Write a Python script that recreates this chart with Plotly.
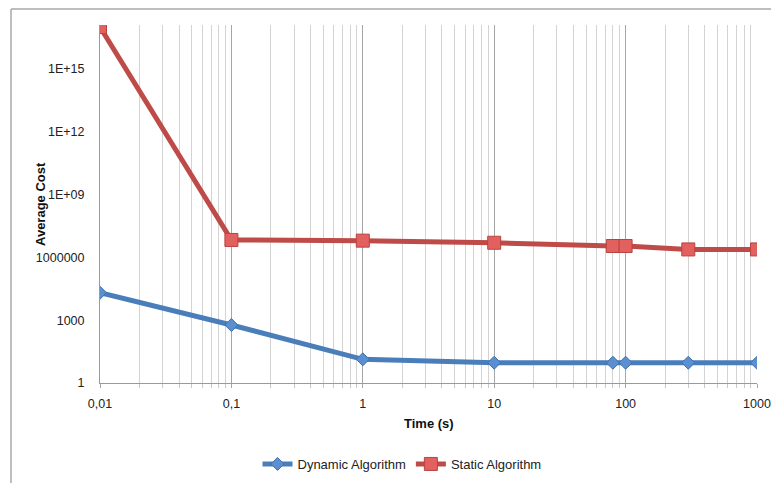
import plotly.graph_objects as go

time_s = [0.01, 0.1, 1, 10, 80, 100, 300, 1000]
dynamic_cost = [2.05e4, 590, 13.5, 9.3, 9.3, 9.3, 9.3, 9.3]
static_cost = [1.0e17, 6.8e6, 6.3e6, 5.0e6, 3.5e6, 3.5e6, 2.4e6, 2.4e6]

x_major_vals = [0.01, 0.1, 1, 10, 100, 1000]
x_major_text = ["0,01", "0,1", "1", "10", "100", "1000"]
x_minor_vals = [m * d for d in [0.01, 0.1, 1, 10, 100] for m in range(2, 10)]
y_tick_vals = [1, 1e3, 1e6, 1e9, 1e12, 1e15]
y_tick_text = ["1", "1000", "1000000", "1E+09", "1E+12", "1E+15"]

FONT = "Liberation Sans"

# page has an 8px body margin; figure is sized to fit in the window
W, H = 771, 475
L, T = 92, 17
PW, PH = 657, 358
R = W - L - PW
B = H - T - PH


def px_x(xp):  # page x -> paper
    return (xp - 8 - L) / PW


def px_y(yp):  # page y -> paper
    return (T + PH - (yp - 8)) / PH


fig = go.Figure()
fig.add_trace(go.Scatter(
    x=time_s, y=dynamic_cost, name="Dynamic Algorithm", mode="lines+markers",
    line=dict(color="#4A7EBB", width=5),
    marker=dict(symbol="diamond", size=10, color="#5B8FD0",
                line=dict(color="#3E6FAE", width=1)),
))
fig.add_trace(go.Scatter(
    x=time_s, y=static_cost, name="Static Algorithm", mode="lines+markers",
    line=dict(color="#BE4B48", width=5),
    marker=dict(symbol="square", size=13, color="#E2605D",
                line=dict(color="#B84442", width=1)),
))

fig.update_xaxes(
    type="log", range=[-2, 3], automargin=False,
    tickmode="array", tickvals=x_major_vals, ticktext=x_major_text,
    showgrid=True, gridcolor="#A6A6A6", gridwidth=1,
    ticks="outside", ticklen=4, tickcolor="#A6A6A6",
    ticklabelstandoff=5,
    showline=True, linecolor="#9A9A9A", linewidth=1,
    zeroline=False,
    tickfont=dict(family=FONT, size=12.5, color="#222222"),
    minor=dict(tickmode="array", tickvals=x_minor_vals, showgrid=True,
               gridcolor="#D3D3D3", gridwidth=1, ticks="outside",
               ticklen=4, tickcolor="#C8C8C8"),
)
fig.update_yaxes(
    type="log", range=[0, 17.1], automargin=False,
    tickmode="array", tickvals=y_tick_vals, ticktext=y_tick_text,
    showgrid=False, zeroline=False,
    ticks="", ticklabelstandoff=12,
    showline=True, linecolor="#9A9A9A", linewidth=1,
    tickfont=dict(family=FONT, size=12.5, color="#222222"),
)

fig.add_annotation(text="<b>Average Cost</b>", xref="paper", yref="paper",
                   x=px_x(40), y=0.5, textangle=-90, showarrow=False,
                   xanchor="center", yanchor="middle",
                   font=dict(family=FONT, size=13, color="#111111"))
fig.add_annotation(text="<b>Time (s)</b>", xref="paper", yref="paper",
                   x=0.5, y=px_y(423), showarrow=False,
                   xanchor="center", yanchor="middle",
                   font=dict(family=FONT, size=13, color="#111111"))

# outer chart frame (top and left edges visible)
fx = px_x(11)
fy = px_y(9)
fig.add_shape(type="line", xref="paper", yref="paper",
              x0=fx, x1=1.2, y0=fy, y1=fy,
              line=dict(color="#A8A8A8", width=1.5))
fig.add_shape(type="line", xref="paper", yref="paper",
              x0=fx, x1=fx, y0=fy, y1=-0.4,
              line=dict(color="#A8A8A8", width=1.5))

fig.update_layout(
    width=W, height=H,
    margin=dict(l=L, r=R, t=T, b=B, pad=0, autoexpand=False),
    plot_bgcolor="white", paper_bgcolor="white",
    showlegend=True,
    legend=dict(orientation="h",
                xref="container", x=(402 - 8) / W, xanchor="center",
                yref="container", y=1 - (464 - 8) / H, yanchor="middle",
                font=dict(family=FONT, size=13, color="#222222"),
                itemwidth=30, bgcolor="rgba(0,0,0,0)"),
)

fig.write_html("out.html")
